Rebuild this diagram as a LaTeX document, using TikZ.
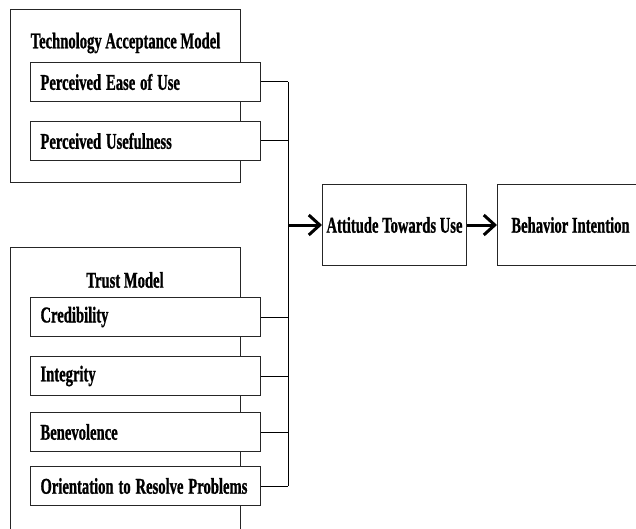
\documentclass[tikz,border=0pt]{standalone}
\usepackage{fontspec}
\usepackage{graphicx}
\setmainfont{Liberation Serif}[BoldFeatures={FakeBold=1.2}]
\usetikzlibrary{arrows.meta}
\newcommand{\sq}[1]{\scalebox{0.65}[1]{#1}}
\tikzset{
  txt/.style={font=\bfseries\fontsize{22.5}{26}\selectfont},
  outerbox/.style={draw=black!85, line width=1pt, fill=none},
  inbox/.style={txt, draw=black!85, line width=1pt, fill=white, minimum width=230pt, minimum height=39pt,
     text width=210pt, inner xsep=10pt, inner ysep=0pt, align=left, anchor=north west},
  title/.style={txt, inner sep=0pt},
  bigbox/.style={txt, draw=black!85, line width=1pt, fill=white, anchor=north west},
  conn/.style={draw=black, line width=1pt},
  arr/.style={draw=black, line width=3pt, -{Straight Barb[length=11pt,width=20pt]}},
}
\begin{document}
\begin{tikzpicture}[x=1pt,y=-1pt]
\useasboundingbox (0,0) rectangle (636,529);
\begin{scope}
\clip (0,0) rectangle (636,529);
% outer boxes
\draw[outerbox] (10,10) rectangle (240,183);
\draw[outerbox] (10,247) rectangle (240,560);
% titles
\node[title] (tamt) at (125.5,43) {\sq{Technology Acceptance Model}};
\node[title] (trt) at (125,280) {\sq{Trust Model}};
% inner boxes
\node[inbox] (peou) at (30,62) {\sq{Perceived Ease of Use}};
\node[inbox] (pu) at (30,121) {\sq{Perceived Usefulness}};
\node[inbox] (cred) at (30,297) {\sq{Credibility}};
\node[inbox] (integ) at (30,356) {\sq{Integrity}};
\node[inbox] (benev) at (30,412) {\sq{Benevolence}};
\node[inbox] (orp) at (30,466) {\sq{Orientation to Resolve Problems}};
% right boxes
\node[bigbox, minimum width=144pt, minimum height=81pt] (att) at (322,184) {\sq{Attitude Towards Use}};
\node[bigbox, minimum width=146pt, minimum height=81pt] (bi) at (497,184) {\sq{Behavior Intention}};
% bus
\coordinate (bus) at (288,223);
\foreach \n in {peou,pu,cred,integ,benev,orp}{
  \draw[conn] (\n.east) -- (\n.east -| bus);
}
\draw[conn] (peou.east -| bus) -- (orp.east -| bus);
\draw[arr] (bus |- att.west) -- (att.west);
\draw[arr] (att.east) -- (bi.west);
\end{scope}
\end{tikzpicture}
\end{document}
